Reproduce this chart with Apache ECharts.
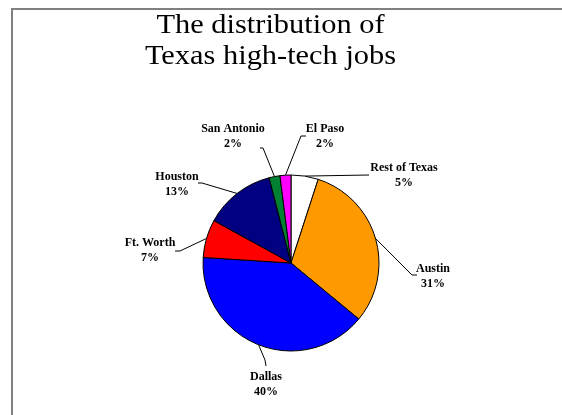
<!DOCTYPE html>
<html>
<head>
<meta charset="utf-8">
<script src="https://cdn.jsdelivr.net/npm/echarts@6/dist/echarts.min.js"></script>
<style>html,body{margin:0;padding:0;background:#fff;}#c{width:562px;height:415px;}</style>
</head>
<body>
<div id="c"></div>
<script>
const titleText = 'The distribution of\nTexas high-tech jobs';
const categories = ['Rest of Texas', 'Austin', 'Dallas', 'Ft. Worth', 'Houston', 'San Antonio', 'El Paso'];
const values = [5, 31, 40, 7, 13, 2, 2];
const colors = ['#FFFFFF', '#FF9900', '#0000FF', '#FF0000', '#000080', '#008033', '#FF00FF'];

// label layout (text centres and leader bends), pixel positions
const labelCenters = [[404, 175.5], [433, 276.5], [266, 384.5], [150, 250.5], [177, 184.5], [233, 136], [325, 136]];
const leaderBends = [
  [[369, 175]],
  [[412, 275], [417, 275]],
  [[265, 360], [266, 366]],
  [[180, 251], [175, 251]],
  [[202, 183], [198, 183]],
  [[263, 148], [260, 148]],
  [[301, 136], [306, 136]]
];
const cx = 291, cy = 263, R = 88;

const chart = echarts.init(document.getElementById('c'));
const total = values.reduce((a, b) => a + b, 0);
function edgePoint(i) {
  let cum = 0;
  for (let k = 0; k < i; k++) cum += values[k];
  const mid = (cum + values[i] / 2) / total * 2 * Math.PI;
  return [cx + R * Math.sin(mid), cy - R * Math.cos(mid)];
}
chart.setOption({
  animation: false,
  graphic: [{
    type: 'rect', shape: { x: 12, y: 9, width: 700, height: 500 },
    style: { fill: 'none', stroke: '#808080', lineWidth: 2 }, silent: true
  }, {
    type: 'text', x: 270.5, y: 10, scaleX: 1.086, silent: true,
    style: {
      text: titleText, fontFamily: 'Liberation Serif', fontSize: 28, fill: '#000',
      align: 'center', verticalAlign: 'top', lineHeight: 31
    }
  }],
  series: [{
    type: 'pie',
    center: [cx, cy],
    radius: [0, R],
    startAngle: 90,
    clockwise: true,
    avoidLabelOverlap: false,
    data: categories.map((n, i) => ({ name: n, value: values[i], itemStyle: { color: colors[i] } })),
    itemStyle: { borderColor: '#000', borderWidth: 1 },
    label: {
      show: true, position: 'outside', formatter: '{b}\n{c}%',
      fontFamily: 'Liberation Serif', fontWeight: 'bold', fontSize: 12, color: '#000', lineHeight: 15, align: 'center'
    },
    labelLine: { show: true, lineStyle: { color: '#000', width: 1 }, length: 10, length2: 10 },
    labelLayout: function (params) {
      const i = params.dataIndex;
      const p0 = edgePoint(i);
      return {
        x: labelCenters[i][0], y: labelCenters[i][1],
        align: 'center', verticalAlign: 'middle',
        labelLinePoints: [p0].concat(leaderBends[i])
      };
    }
  }]
});
</script>
</body>
</html>
